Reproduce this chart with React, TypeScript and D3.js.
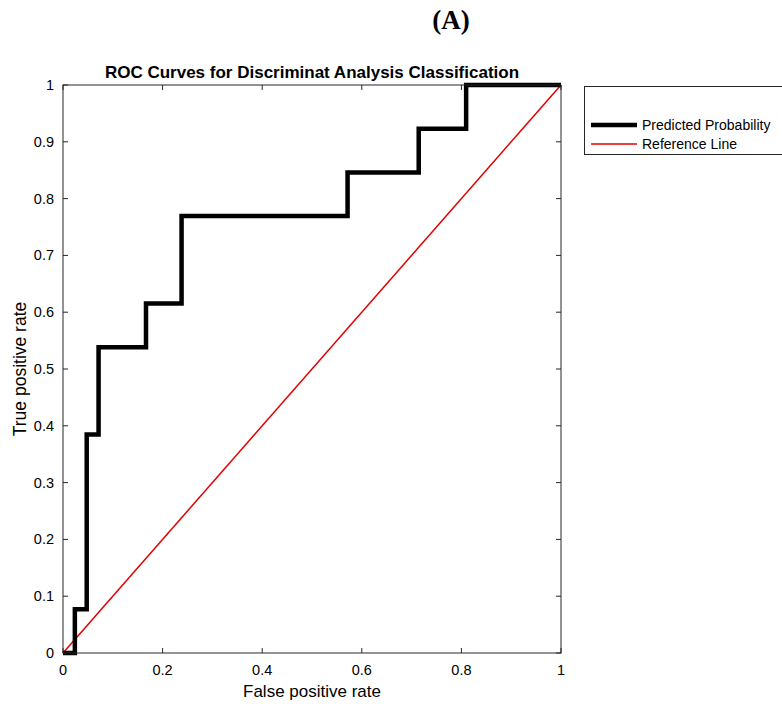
import React from "react";
import * as d3 from "d3";

const fpr = [0, 1/42, 1/42, 2/42, 2/42, 3/42, 3/42, 7/42, 7/42, 10/42, 10/42, 24/42, 24/42, 30/42, 30/42, 34/42, 34/42, 1];
const tpr = [0, 0, 1/13, 1/13, 5/13, 5/13, 7/13, 7/13, 8/13, 8/13, 10/13, 10/13, 11/13, 11/13, 12/13, 12/13, 1, 1];
const refX = [0, 1];
const refY = [0, 1];
const xTicks = [0, 0.2, 0.4, 0.6, 0.8, 1];
const yTicks = [0, 0.1, 0.2, 0.3, 0.4, 0.5, 0.6, 0.7, 0.8, 0.9, 1];
const legendLabels = ["Predicted Probability", "Reference Line"];

const W = 782, H = 706;
const L = 63, R = 561, T = 85, B = 653;
const font = "'Liberation Sans', Arial, Helvetica, sans-serif";

export default function App() {
  const x = d3.scaleLinear().domain([0, 1]).range([L, R]);
  const y = d3.scaleLinear().domain([0, 1]).range([B, T]);
  const line = d3.line<number>().x((_, i) => x(fpr[i])).y((_, i) => y(tpr[i]));
  const refLine = d3.line<number>().x((_, i) => x(refX[i])).y((_, i) => y(refY[i]));
  const axisColor = "#262626";
  const tl = 5;
  return (
    <svg width={W} height={H} style={{ position: "absolute", left: 0, top: 0, background: "#fff" }}>
      <rect x={0} y={0} width={W} height={H} fill="#fff" />
      <text x={451} y={29} textAnchor="middle" fontFamily="'Liberation Serif', 'Times New Roman', serif" fontWeight="bold" fontSize={27}>(A)</text>
      <text x={(L + R) / 2} y={78} textAnchor="middle" fontFamily={font} fontWeight="bold" fontSize={17} fill="#000">ROC Curves for Discriminat Analysis Classification</text>
      {xTicks.map((t) => (
        <g key={"x" + t}>
          <line x1={x(t)} x2={x(t)} y1={B} y2={B - tl} stroke={axisColor} strokeWidth={1} />
          <line x1={x(t)} x2={x(t)} y1={T} y2={T + tl} stroke={axisColor} strokeWidth={1} />
          <text x={x(t)} y={B + 22} textAnchor="middle" fontFamily={font} fontSize={14.5} fill="#000">{d3.format("~g")(t)}</text>
        </g>
      ))}
      {yTicks.map((t) => (
        <g key={"y" + t}>
          <line x1={L} x2={L + tl} y1={y(t)} y2={y(t)} stroke={axisColor} strokeWidth={1} />
          <line x1={R} x2={R - tl} y1={y(t)} y2={y(t)} stroke={axisColor} strokeWidth={1} />
          <text x={L - 9} y={y(t) + 5} textAnchor="end" fontFamily={font} fontSize={14.5} fill="#000">{d3.format("~g")(t)}</text>
        </g>
      ))}
      <path d={refLine([0, 1]) || ""} fill="none" stroke="#e00000" strokeWidth={1.5} />
      <path d={line(fpr) || ""} fill="none" stroke="#000" strokeWidth={4.5} strokeLinejoin="miter" />
      <rect x={L} y={T} width={R - L} height={B - T} fill="none" stroke={axisColor} strokeWidth={1} />
      <text x={(L + R) / 2} y={697} textAnchor="middle" fontFamily={font} fontSize={17} fill="#000">False positive rate</text>
      <text transform={`translate(26, ${(T + B) / 2}) rotate(-90)`} textAnchor="middle" fontFamily={font} fontSize={17.5} fill="#000">True positive rate</text>
      <rect x={584.5} y={86.5} width={230} height={68} fill="#fff" stroke={axisColor} strokeWidth={1} />
      <line x1={591} x2={637} y1={125} y2={125} stroke="#000" strokeWidth={4.5} />
      <line x1={591} x2={637} y1={144} y2={144} stroke="#e00000" strokeWidth={1.5} />
      <text x={642} y={130} fontFamily={font} fontSize={14} fill="#000">{legendLabels[0]}</text>
      <text x={642} y={149} fontFamily={font} fontSize={14} fill="#000">{legendLabels[1]}</text>
    </svg>
  );
}
